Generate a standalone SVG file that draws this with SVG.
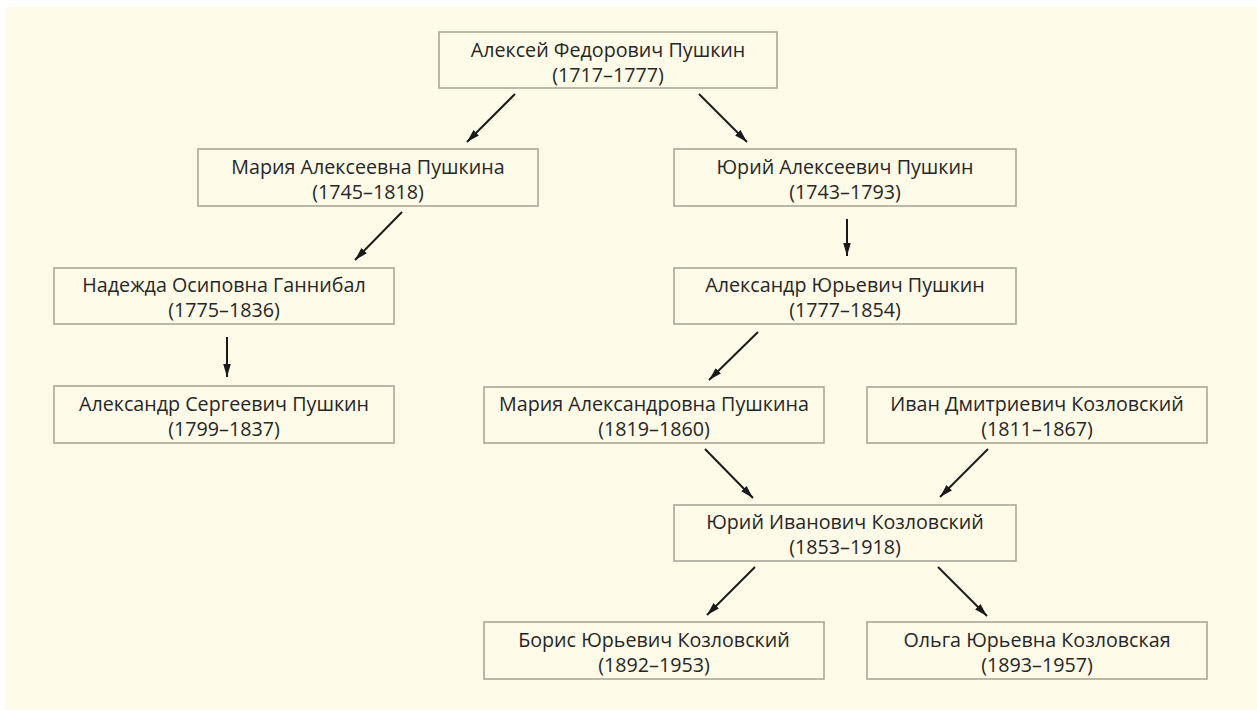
<svg xmlns="http://www.w3.org/2000/svg" width="1257" height="710" viewBox="0 0 1257 710">
<style>
.box{fill:#fffbe9;stroke:#a8a899;stroke-width:1.6}
.t{font-family:"Open Sans","Noto Sans","DejaVu Sans",sans-serif;font-size:19.7px;fill:#262626;text-anchor:middle}
.c{stroke:#1a1a1a;stroke-width:2;fill:none;marker-end:url(#ah)}
</style>
<defs>
<marker id="ah" markerUnits="userSpaceOnUse" markerWidth="14" markerHeight="9" refX="13" refY="4.5" orient="auto">
<path d="M0,0.7 L13,4.5 L0,8.3 z" fill="#1a1a1a"/>
</marker>
</defs>
<rect x="5" y="7" width="1252" height="703" fill="#fffbe9"/>
<g id="n1"><rect class="box" x="439" y="32" width="338" height="56"/><text class="t" x="608" y="57">Алексей Федорович Пушкин</text><text class="t" x="608" y="82">(1717–1777)</text></g>
<g id="n2"><rect class="box" x="198" y="149" width="340" height="57"/><text class="t" x="368" y="174">Мария Алексеевна Пушкина</text><text class="t" x="368" y="199">(1745–1818)</text></g>
<g id="n3"><rect class="box" x="674" y="149" width="342" height="57"/><text class="t" x="845" y="174">Юрий Алексеевич Пушкин</text><text class="t" x="845" y="199">(1743–1793)</text></g>
<g id="n4"><rect class="box" x="54" y="268" width="340" height="56"/><text class="t" x="224" y="292">Надежда Осиповна Ганнибал</text><text class="t" x="224" y="317">(1775–1836)</text></g>
<g id="n5"><rect class="box" x="674" y="268" width="342" height="56"/><text class="t" x="845" y="292">Александр Юрьевич Пушкин</text><text class="t" x="845" y="317">(1777–1854)</text></g>
<g id="n6"><rect class="box" x="54" y="386" width="340" height="57"/><text class="t" x="224" y="411">Александр Сергеевич Пушкин</text><text class="t" x="224" y="436">(1799–1837)</text></g>
<g id="n7"><rect class="box" x="484" y="387" width="340" height="56"/><text class="t" x="654" y="411">Мария Александровна Пушкина</text><text class="t" x="654" y="436">(1819–1860)</text></g>
<g id="n8"><rect class="box" x="867" y="387" width="340" height="56"/><text class="t" x="1037" y="411">Иван Дмитриевич Козловский</text><text class="t" x="1037" y="436">(1811–1867)</text></g>
<g id="n9"><rect class="box" x="674" y="505" width="342" height="56"/><text class="t" x="845" y="529">Юрий Иванович Козловский</text><text class="t" x="845" y="554">(1853–1918)</text></g>
<g id="n10"><rect class="box" x="484" y="622" width="340" height="57"/><text class="t" x="654" y="647">Борис Юрьевич Козловский</text><text class="t" x="654" y="672">(1892–1953)</text></g>
<g id="n11"><rect class="box" x="867" y="622" width="340" height="57"/><text class="t" x="1037" y="647">Ольга Юрьевна Козловская</text><text class="t" x="1037" y="672">(1893–1957)</text></g>
<g id="connectors">
<line class="c" x1="515" y1="94" x2="467" y2="142"/>
<line class="c" x1="699" y1="94" x2="747" y2="142"/>
<line class="c" x1="402" y1="212" x2="355" y2="260"/>
<line class="c" x1="227" y1="337" x2="227" y2="377"/>
<line class="c" x1="847" y1="219" x2="847" y2="256"/>
<line class="c" x1="758" y1="332" x2="709" y2="380"/>
<line class="c" x1="705" y1="449" x2="753" y2="498"/>
<line class="c" x1="988" y1="449" x2="940" y2="497"/>
<line class="c" x1="755" y1="567" x2="707" y2="615"/>
<line class="c" x1="938" y1="567" x2="987" y2="616"/>
</g>
</svg>
